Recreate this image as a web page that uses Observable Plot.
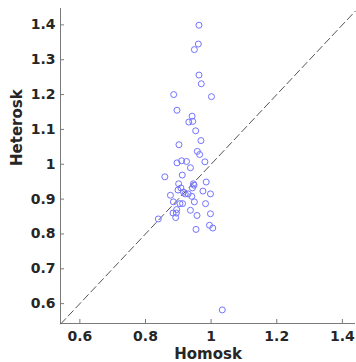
<!DOCTYPE html>
<html>
<head>
<meta charset="utf-8">
<script src="https://cdn.jsdelivr.net/npm/d3@7"></script>
<script src="https://cdn.jsdelivr.net/npm/@observablehq/plot@0.6"></script>
<style>
  html, body { margin: 0; padding: 0; background: #fff; }
  #chart svg { display: block; }
</style>
</head>
<body>
<div id="chart"></div>
<script>
const homosk = [0.963,0.961,0.949,0.963,0.970,0.886,1.001,0.896,0.942,0.932,0.944,0.953,0.902,0.969,0.958,0.965,0.981,0.896,0.910,0.925,0.937,0.859,0.912,0.985,0.901,0.946,0.948,0.943,0.899,0.908,0.916,0.930,0.975,0.998,0.876,0.941,0.921,0.885,0.905,0.913,0.949,0.983,0.895,0.937,0.998,0.884,0.894,0.892,0.957,0.839,0.954,0.995,1.005,1.034];
const heterosk = [1.399,1.345,1.329,1.256,1.231,1.200,1.194,1.155,1.138,1.121,1.123,1.096,1.056,1.068,1.037,1.028,1.007,1.004,1.010,1.008,0.990,0.964,0.969,0.949,0.944,0.944,0.940,0.932,0.926,0.932,0.920,0.915,0.923,0.915,0.911,0.908,0.915,0.892,0.887,0.887,0.892,0.887,0.870,0.868,0.858,0.860,0.860,0.847,0.853,0.843,0.813,0.825,0.817,0.582];
const xTicks = [0.6, 0.8, 1, 1.2, 1.4];
const yTicks = [0.6, 0.7, 0.8, 0.9, 1, 1.1, 1.2, 1.3, 1.4];
const xDomain = [0.541, 1.44];
const yDomain = [0.543, 1.447];

const points = homosk.map((h, i) => ({homosk: h, heterosk: heterosk[i]}));
const diag = [{x1: xDomain[0], y1: xDomain[0], x2: xDomain[1], y2: xDomain[1]}];

const fmt = d => d3.format("~g")(d);
const axisColor = "#262626";

const chart = Plot.plot({
  width: 356,
  height: 362,
  marginLeft: 60,
  marginRight: 1,
  marginTop: 8,
  marginBottom: 39,
  style: {fontFamily: "DejaVu Sans", background: "#fff"},
  x: {domain: xDomain},
  y: {domain: yDomain},
  marks: [
    Plot.ruleY([yDomain[0]], {stroke: "#7a7a7a", strokeWidth: 1}),
    Plot.ruleX([xDomain[0]], {stroke: "#7a7a7a", strokeWidth: 1}),
    Plot.axisX({ticks: xTicks, tickFormat: fmt, tickSize: -4, tickPadding: 12, stroke: "#7a7a7a", fill: axisColor, fontSize: 14, fontWeight: "bold", label: null}),
    Plot.axisY({ticks: yTicks, tickFormat: fmt, tickSize: -4, tickPadding: 9, stroke: "#7a7a7a", fill: axisColor, fontSize: 14, fontWeight: "bold", label: null}),
    Plot.link(diag, {x1: "x1", y1: "y1", x2: "x2", y2: "y2", stroke: "#555", strokeWidth: 1, strokeDasharray: "8,3"}),
    Plot.dot(points, {x: "homosk", y: "heterosk", r: 3, stroke: "#7373ff", strokeWidth: 1, fill: "none"}),
    Plot.text(["Homosk"], {frameAnchor: "bottom", lineAnchor: "bottom", dy: 35, fontSize: 15, fontWeight: "bold", fill: axisColor}),
    Plot.text(["Heterosk"], {frameAnchor: "left", dx: -43, rotate: -90, fontSize: 15, fontWeight: "bold", fill: axisColor})
  ]
});
document.getElementById("chart").appendChild(chart);
</script>
</body>
</html>
